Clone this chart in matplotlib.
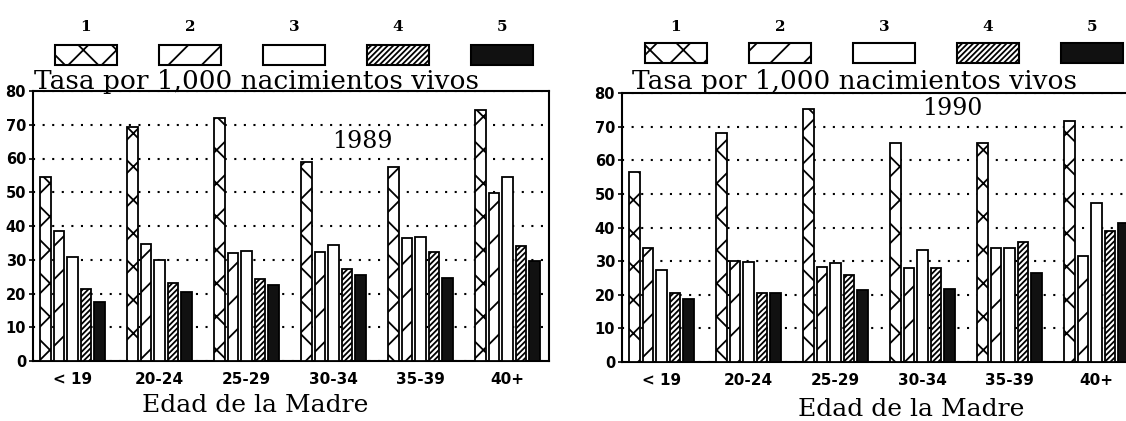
import matplotlib
matplotlib.use('Agg')
import matplotlib.pyplot as plt
from matplotlib.patches import Rectangle
import numpy as np

groups = ['< 19', '20-24', '25-29', '30-34', '35-39', '40+']
legend_labels = ['1', '2', '3', '4', '5']

s1_1989 = [54.5, 69.2, 72.0, 58.9, 57.4, 74.4]
s2_1989 = [38.6, 34.7, 32.1, 32.2, 36.4, 49.7]
s3_1989 = [30.7, 29.9, 32.5, 34.3, 36.8, 54.6]
s4_1989 = [21.2, 23.2, 24.4, 27.2, 32.3, 34.1]
s5_1989 = [17.6, 20.4, 22.5, 25.6, 24.7, 29.6]

s1_1990 = [56.6, 68.2, 75.1, 65.2, 65.2, 71.8]
s2_1990 = [34.0, 30.0, 28.4, 28.0, 33.9, 31.6]
s3_1990 = [27.5, 29.6, 29.4, 33.3, 33.9, 47.2]
s4_1990 = [20.4, 20.6, 25.9, 27.9, 35.7, 38.9]
s5_1990 = [18.6, 20.6, 21.4, 21.7, 26.6, 41.2]

yticks = [0, 10, 20, 30, 40, 50, 60, 70, 80]

# bar styles: (facecolor, hatch)
styles = [('white', 'x'), ('white', '/'), ('white', ''), ('white', '//////'), ('#111111', '')]

W, H = 1126, 421
plt.rcParams['hatch.linewidth'] = 1.3
fig = plt.figure(figsize=(W / 100, H / 100), dpi=100)
fig.patch.set_facecolor('white')


def fx(x):
    return x / W


def fy(y):
    return 1 - y / H


def draw_panel(left_px, top_px, bottom_px, series, year, year_xy, xlab_xy, tasa_x, leg_x0, leg_y):
    ax = fig.add_axes([fx(left_px), fy(bottom_px), 516 / W, (bottom_px - top_px) / H])
    x = np.arange(len(groups))
    pitch, width = 0.155, 0.125
    for j, vals in enumerate(series):
        fc, hatch = styles[j]
        ax.bar(x + (j - 2) * pitch, vals, width, facecolor=fc, edgecolor='black',
               hatch=hatch, linewidth=1.3, zorder=3)
    ax.set_xlim(-0.454, 5.477)
    ax.set_ylim(0, 80)
    ax.set_yticks(yticks)
    ax.set_xticks(x)
    ax.set_xticklabels(groups)
    ax.tick_params(axis='y', length=3, width=1.2, pad=2, labelsize=10.5)
    ax.tick_params(axis='x', length=0, pad=8, labelsize=11)
    for lab in ax.get_xticklabels() + ax.get_yticklabels():
        lab.set_fontweight('bold')
    ax.yaxis.grid(True, linestyle=(0, (1, 3.6)), color='black', linewidth=1.5)
    ax.set_axisbelow(True)
    for sp in ax.spines.values():
        sp.set_linewidth(1.5)
    ax.text(year_xy[0], year_xy[1], year, fontsize=17, family='DejaVu Serif',
            ha='center', va='center', zorder=4)

    fig.text(fx(xlab_xy[0]), fy(xlab_xy[1]), 'Edad de la Madre', fontsize=18,
             family='DejaVu Serif', ha='center', va='center')
    fig.text(fx(tasa_x), fy(81), 'Tasa por 1,000 nacimientos vivos', fontsize=19,
             family='DejaVu Serif', ha='left', va='center')

    for j, lab in enumerate(legend_labels):
        x0 = leg_x0 + j * 104
        fc, hatch = styles[j]
        fig.patches.append(Rectangle((fx(x0), fy(leg_y + 20)), 62 / W, 20 / H,
                                     transform=fig.transFigure, facecolor=fc,
                                     edgecolor='black', hatch=hatch, linewidth=1.5))
        fig.text(fx(x0 + 31), fy(27), lab, fontsize=11, fontweight='bold',
                 family='DejaVu Serif', ha='center', va='center')
    return ax


draw_panel(33, 91, 361, [s1_1989, s2_1989, s3_1989, s4_1989, s5_1989], '1989',
           (3.33, 64.9), (255, 405), 34, 55, 45)
draw_panel(622, 93, 362, [s1_1990, s2_1990, s3_1990, s4_1990, s5_1990], '1990',
           (3.34, 75.5), (911, 409), 632, 645, 43)

fig.savefig('out.png', dpi=100)
plt.close()
